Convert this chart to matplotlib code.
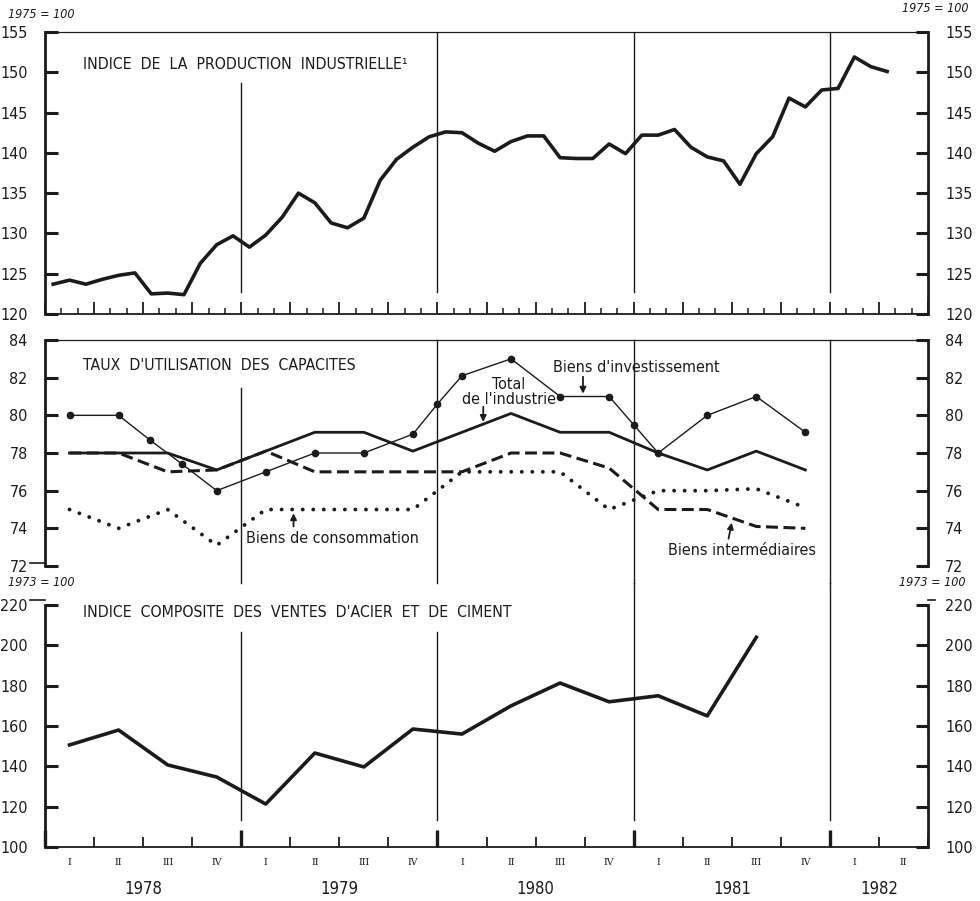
import numpy as np
import matplotlib
matplotlib.use("Agg")
import matplotlib.pyplot as plt
from matplotlib.ticker import MultipleLocator

plt.rcParams['font.family'] = ['Liberation Sans Narrow', 'DejaVu Sans']
plt.rcParams['font.stretch'] = 'condensed'
INK = '#1b1b1b'

# monthly industrial production index, Jan 1978 - Apr 1982 (1975 = 100)
prod_1978 = [123.7, 124.2, 123.7, 124.3, 124.8, 125.1, 122.5, 122.6, 122.4, 126.3, 128.6, 129.7]
prod_1979 = [128.3, 129.8, 132.0, 135.0, 133.8, 131.3, 130.7, 131.9, 136.6, 139.2, 140.7, 142.0]
prod_1980 = [142.6, 142.5, 141.2, 140.2, 141.4, 142.1, 142.1, 139.4, 139.3, 139.3, 141.1, 139.9]
prod_1981 = [142.2, 142.2, 142.9, 140.7, 139.5, 139.0, 136.1, 139.9, 142.0, 146.8, 145.7, 147.8]
prod_1982 = [148.0, 151.9, 150.7, 150.1]

# capacity utilisation, quarterly 1978 Q1 - 1981 Q4
util_total = [78.0, 78.0, 78.0, 77.1, 78.1, 79.1, 79.1, 78.1, 79.1, 80.1, 79.1, 79.1, 78.0, 77.1, 78.1, 77.1]
util_interm = [78.0, 78.0, 77.0, 77.1, 78.1, 77.0, 77.0, 77.0, 77.0, 78.0, 78.0, 77.2, 75.0, 75.0, 74.1, 74.0]
util_conso = [75.0, 74.0, 75.0, 73.1, 75.0, 75.0, 75.0, 75.0, 77.0, 77.0, 77.0, 75.0, 76.0, 76.0, 76.1, 75.1]
# investment goods survey points (month position, rate)
invest_month = [1.5, 4.5, 6.4, 8.4, 10.5, 13.5, 16.5, 19.5, 22.5, 24.0, 25.5, 28.5, 31.5, 34.5, 36.0,
                37.5, 40.5, 43.5, 46.5]
invest_rate = [80.0, 80.0, 78.7, 77.4, 76.0, 77.0, 78.0, 78.0, 79.0, 80.6, 82.1, 83.0, 81.0, 81.0, 79.5,
               78.0, 80.0, 81.0, 79.1]

# steel and cement sales composite index, quarterly 1978 Q1 - 1981 Q3 (1973 = 100)
steel_cement = [150.6, 158.0, 140.7, 134.7, 121.3, 146.6, 139.7, 158.5, 156.0, 170.0, 181.3, 172.0,
                175.0, 165.0, 204.0]

quarter_labels = ['I', 'II', 'III', 'IV'] * 4 + ['I', 'II']
years = ['1978', '1979', '1980', '1981', '1982']
year_label_pos = [6, 18, 30, 42, 51]

W, H = 980, 901
fig = plt.figure(figsize=(W / 100, H / 100), dpi=100)


def frame(px_top, px_bottom):
    return fig.add_axes([45 / W, 1 - px_bottom / H, 883 / W, (px_bottom - px_top) / H])


ax_top = frame(32, 314)
ax_mid = frame(340, 566)
ax_bot = frame(605, 847)

for ax in (ax_top, ax_mid, ax_bot):
    ax.set_xlim(0, 54)
    for side in ('left', 'right'):
        ax.spines[side].set_linewidth(2.0)
        ax.spines[side].set_color(INK)
    ax.spines['top'].set_linewidth(0.9)
    ax.spines['top'].set_color(INK)
    ax.spines['bottom'].set_linewidth(1.3)
    ax.spines['bottom'].set_color(INK)
    ax.tick_params(axis='y', which='both', left=True, right=True, labelleft=True, labelright=True,
                   direction='in', length=9, width=2.2, pad=12.5, labelsize=11.5, colors=INK)
    ax.set_facecolor('none')

# top panel: industrial production
production = prod_1978 + prod_1979 + prod_1980 + prod_1981 + prod_1982
months = np.arange(len(production)) + 0.5
ax_top.plot(months, production, color=INK, lw=2.6, solid_joinstyle='round')
ax_top.set_ylim(120, 155)
ax_top.yaxis.set_major_locator(MultipleLocator(5))
ax_top.xaxis.set_major_locator(MultipleLocator(3))
ax_top.xaxis.set_minor_locator(MultipleLocator(1))
ax_top.tick_params(axis='x', which='major', direction='in', length=8.5, width=1.3, top=False,
                   labelbottom=False, colors=INK)
ax_top.tick_params(axis='x', which='minor', direction='in', length=4.5, width=1.1, top=False, colors=INK)
ax_top.axvline(12, ymin=0.078, ymax=0.82, color=INK, lw=1.0)
for b in (24, 36, 48):
    ax_top.axvline(b, ymin=0.078, ymax=1, color=INK, lw=1.0)
ax_top.text(0.043, 0.883, 'INDICE  DE  LA  PRODUCTION  INDUSTRIELLE\u00b9', transform=ax_top.transAxes,
            fontsize=11.3, va='center', ha='left', color=INK)

# middle panel: capacity utilisation
quarters = np.arange(len(util_total)) * 3 + 1.5
ax_mid.plot(quarters, util_total, color=INK, lw=2.0)
ax_mid.plot(quarters, util_interm, color=INK, lw=2.2, linestyle=(0, (3.9, 1.8)))
ax_mid.plot(quarters, util_conso, color=INK, lw=2.8, linestyle=(0, (0.01, 2.7)), dash_capstyle='round')
ax_mid.plot(invest_month, invest_rate, color=INK, lw=1.0, marker='o', ms=4.5)
ax_mid.set_ylim(72, 84)
ax_mid.yaxis.set_major_locator(MultipleLocator(2))
ax_mid.spines['bottom'].set_visible(False)
ax_mid.tick_params(axis='x', which='both', bottom=False, top=False, labelbottom=False)
ax_mid.axvline(12, ymin=-0.075, ymax=0.788, color=INK, lw=1.0, clip_on=False)
for b in (24, 36, 48):
    ax_mid.axvline(b, ymin=-0.075, ymax=1, color=INK, lw=1.0, clip_on=False)
ax_mid.text(0.043, 0.889, 'TAUX  D\'UTILISATION  DES  CAPACITES', transform=ax_mid.transAxes,
            fontsize=11.3, va='center', ha='left', color=INK)
# short outward strokes at the panel ends
ax_mid.plot([-0.017, 0], [0.012, 0.012], transform=ax_mid.transAxes, color=INK, lw=1.2, clip_on=False)
ax_bot.plot([-0.017, 0], [1.02, 1.02], transform=ax_bot.transAxes, color=INK, lw=1.2, clip_on=False)
ax_bot.plot([1, 1.008], [1.02, 1.02], transform=ax_bot.transAxes, color=INK, lw=1.2, clip_on=False)

arrow = dict(arrowstyle='-|>', color=INK, lw=1.3, mutation_scale=9, shrinkA=0, shrinkB=0)
ax_mid.text(28.35, 81.23, 'Total\nde l\'industrie', ha='center', va='center', fontsize=11.5,
            linespacing=1.0, color=INK)
ax_mid.annotate('', xy=(26.8, 79.65), xytext=(26.8, 80.45), arrowprops=arrow)
ax_mid.text(31.05, 82.56, 'Biens d\'investissement', ha='left', va='center', fontsize=11.5, color=INK)
ax_mid.annotate('', xy=(32.9, 81.15), xytext=(32.9, 82.05), arrowprops=arrow)
ax_mid.text(17.6, 73.47, 'Biens de consommation', ha='center', va='center', fontsize=11.5, color=INK)
ax_mid.annotate('', xy=(15.2, 74.8), xytext=(15.2, 74.1), arrowprops=arrow)
ax_mid.text(42.6, 72.83, 'Biens intermédiaires', ha='center', va='center', fontsize=11.5, color=INK)
ax_mid.annotate('', xy=(42.0, 74.3), xytext=(41.8, 73.45), arrowprops=arrow)

# bottom panel: steel and cement sales
ax_bot.plot(np.arange(len(steel_cement)) * 3 + 1.5, steel_cement, color=INK, lw=2.6)
ax_bot.set_ylim(100, 220)
ax_bot.yaxis.set_major_locator(MultipleLocator(20))
ax_bot.spines['top'].set_visible(False)
ax_bot.xaxis.set_major_locator(MultipleLocator(12))
ax_bot.xaxis.set_minor_locator(MultipleLocator(3))
ax_bot.tick_params(axis='x', which='major', direction='in', length=12, width=2.4, top=False,
                   labelbottom=False, colors=INK)
ax_bot.tick_params(axis='x', which='minor', direction='in', length=7.5, width=1.3, top=False, colors=INK)
for b in (12, 24):
    ax_bot.axvline(b, ymin=0.112, ymax=0.888, color=INK, lw=1.0)
for b in (36, 48):
    ax_bot.axvline(b, ymin=0.112, ymax=1.091, color=INK, lw=1.0, clip_on=False)
ax_bot.text(0.043, 0.971, 'INDICE  COMPOSITE  DES  VENTES  D\'ACIER  ET  DE  CIMENT',
            transform=ax_bot.transAxes, fontsize=11.3, va='center', ha='left', color=INK)

xt = ax_bot.get_xaxis_transform()
for i, q in enumerate(quarter_labels):
    ax_bot.text(i * 3 + 1.5, -0.066, q, transform=xt, ha='center', va='center', fontsize=7.5,
                family='DejaVu Serif', color=INK)
for pos, yr in zip(year_label_pos, years):
    ax_bot.text(pos, -0.173, yr, transform=xt, ha='center', va='center', fontsize=12, color=INK)

# base notes
for x, y, s, ha in ((8, 14, '1975 = 100', 'left'), (968, 9, '1975 = 100', 'right'),
                    (8, 583, '1973 = 100', 'left'), (965, 583, '1973 = 100', 'right')):
    fig.text(x / W, 1 - y / H, s, ha=ha, va='center', fontsize=9, style='italic', color=INK)

fig.savefig('out.png', dpi=100, facecolor='white')
